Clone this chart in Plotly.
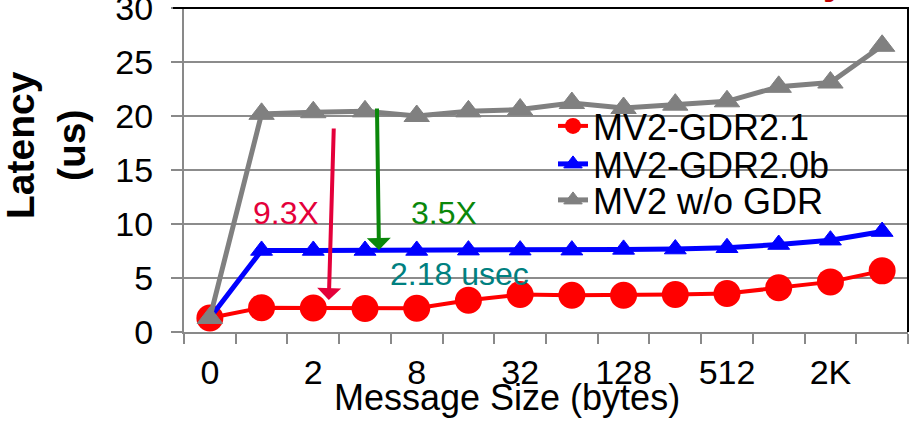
import plotly.graph_objects as go

categories = ["0", "1", "2", "4", "8", "16", "32", "64", "128", "256", "512", "1K", "2K", "4K"]
tick_labels = ["0", "2", "8", "32", "128", "512", "2K"]
gdr21 = [1.3, 2.25, 2.22, 2.18, 2.2, 2.94, 3.47, 3.4, 3.4, 3.47, 3.56, 4.1, 4.64, 5.66]
gdr20b = [1.3, 7.55, 7.55, 7.55, 7.55, 7.58, 7.58, 7.58, 7.65, 7.68, 7.8, 8.1, 8.5, 9.3]
nogdr = [1.3, 20.2, 20.35, 20.43, 20.0, 20.43, 20.6, 21.2, 20.74, 21.05, 21.36, 22.7, 23.1, 26.5]

W, H = 914, 422
L, R, T, B = 184, 908, 8, 332
FONT = "Arial, Liberation Sans, sans-serif"

def px(p):
    return (p - L) / (R - L)

def py(p):
    return (B - p) / (B - T)

idx = list(range(len(categories)))
tick_idx = [categories.index(t) for t in tick_labels]

fig = go.Figure()
fig.add_trace(go.Scatter(x=idx, y=gdr21, name="MV2-GDR2.1", mode="lines+markers",
                         line=dict(color="#ff0000", width=4),
                         marker=dict(symbol="circle", size=27, color="#ff0000"),
                         cliponaxis=False, legend="legend"))
fig.add_trace(go.Scatter(x=idx, y=gdr20b, name="MV2-GDR2.0b", mode="lines+markers",
                         line=dict(color="#0000ff", width=5),
                         marker=dict(symbol="triangle-up", size=19, color="#0000ff",
                                     line=dict(color="#0000ff", width=1)),
                         cliponaxis=False, legend="legend2"))
fig.add_trace(go.Scatter(x=idx, y=nogdr, name="MV2 w/o GDR", mode="lines+markers",
                         line=dict(color="#808080", width=5),
                         marker=dict(symbol="triangle-up", size=22, color="#808080",
                                     line=dict(color="#808080", width=1)),
                         cliponaxis=False, legend="legend3"))

leg_common = dict(xanchor="left", yanchor="middle", bgcolor="rgba(0,0,0,0)",
                  font=dict(family=FONT, size=36, color="#000000"), itemsizing="trace",
                  borderwidth=0)

annotations = [
    dict(text="<b>Latency<br>(us)</b>", xref="paper", yref="paper", x=px(46), y=py(145),
         textangle=-90, showarrow=False, font=dict(family=FONT, size=39, color="#000"),
         xanchor="center", yanchor="middle"),
    dict(text="Message Size (bytes)", xref="paper", yref="paper", x=px(507), y=py(397),
         showarrow=False, font=dict(family=FONT, size=36, color="#000"),
         xanchor="center", yanchor="middle"),
    dict(text="9.3X", xref="paper", yref="paper", x=px(286), y=py(213), showarrow=False,
         font=dict(family=FONT, size=32, color="#E4003A"), xanchor="center", yanchor="middle"),
    dict(text="3.5X", xref="paper", yref="paper", x=px(444), y=py(213), showarrow=False,
         font=dict(family=FONT, size=32, color="#0A870A"), xanchor="center", yanchor="middle"),
    dict(text="2.18 usec", xref="paper", yref="paper", x=px(459), y=py(274), showarrow=False,
         font=dict(family=FONT, size=32, color="#008080"), xanchor="center", yanchor="middle"),
    dict(text="", xref="x", yref="y", x=2.30, y=2.96, ax=5, ay=-173, showarrow=True,
         arrowhead=1, arrowsize=1, arrowwidth=4, arrowcolor="#E4003A", standoff=0),
    dict(text="", xref="x", yref="y", x=3.27, y=7.59, ax=-2, ay=-143, showarrow=True,
         arrowhead=1, arrowsize=1, arrowwidth=4, arrowcolor="#0A870A", standoff=0),
    dict(text="<b>y</b>", xref="paper", yref="paper", x=px(834), y=1.0 + 4 / (B - T), showarrow=False,
         font=dict(family=FONT, size=40, color="#C00000"), xanchor="center", yanchor="bottom"),
]

shapes = [
    dict(type="line", xref="paper", yref="paper", x0=px(173), x1=px(909), y0=1, y1=1,
         line=dict(color="#000000", width=2)),
    dict(type="line", xref="paper", yref="paper", x0=px(908), x1=px(908), y0=0, y1=1,
         line=dict(color="#000000", width=2)),
]

fig.update_layout(
    width=W, height=H,
    margin=dict(l=L, r=W - R, t=T, b=H - B, autoexpand=False),
    paper_bgcolor="white", plot_bgcolor="white",
    showlegend=True,
    legend=dict(x=px(553), y=py(126), **leg_common),
    legend2=dict(x=px(553), y=py(164), **leg_common),
    legend3=dict(x=px(553), y=py(200), **leg_common),
    annotations=annotations,
    shapes=shapes,
    font=dict(family=FONT, color="#000"),
)

fig.update_xaxes(
    range=[-0.5, len(categories) - 0.5], automargin=False,
    tickmode="array", tickvals=tick_idx, ticktext=tick_labels,
    ticks="", showgrid=False, zeroline=False,
    showline=True, linecolor="#898989", linewidth=2,
    tickfont=dict(family=FONT, size=34, color="#000"),
    ticklabelstandoff=9, ticklabeloverflow="allow",
    minor=dict(tickmode="array", tickvals=[i - 0.5 for i in range(len(categories) + 1)],
               ticks="outside", ticklen=10, tickwidth=2, tickcolor="#898989", showgrid=False),
)
fig.update_yaxes(
    range=[0, 30], dtick=5, tick0=0, automargin=False,
    showgrid=True, gridcolor="#8c8c8c", gridwidth=2,
    zeroline=False, showline=True, linecolor="#898989", linewidth=2,
    ticks="outside", ticklen=11, tickwidth=2, tickcolor="#898989",
    tickfont=dict(family=FONT, size=34, color="#000"),
    ticklabelstandoff=11, ticklabeloverflow="allow",
)

fig.write_html(
    "out.html",
    config={"displayModeBar": False},
    post_script="document.body.style.margin='0';document.body.style.padding='0';document.body.style.overflow='hidden';",
)
